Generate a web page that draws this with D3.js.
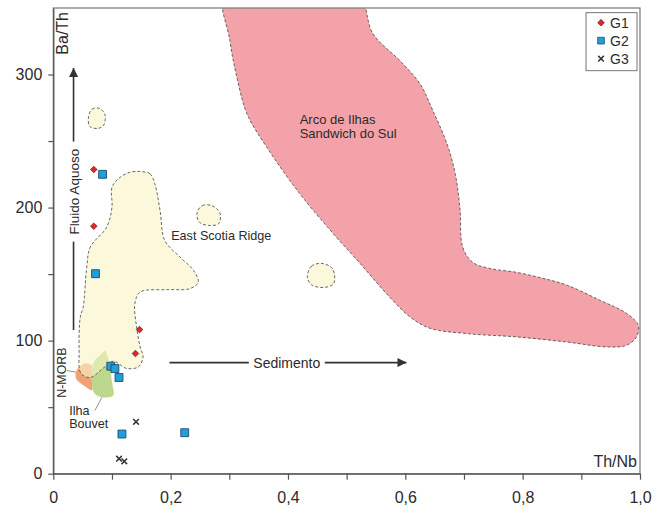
<!DOCTYPE html>
<html>
<head>
<meta charset="utf-8">
<script src="https://cdn.jsdelivr.net/npm/d3@7"></script>
<style>
  body { margin: 0; background: #fff; }
  svg text { font-family: "Liberation Sans", Arial, sans-serif; fill: #2b2b2b; }
</style>
</head>
<body>
<div id="chart"></div>
<script>
// Sizes
const width = 665;
const height = 509;
const margin = { top: 8, right: 25, bottom: 35.3, left: 53.3 };

// Sample points, [Th/Nb, Ba/Th]
const g1 = [[0.069, 228.6], [0.069, 186], [0.147, 108.3], [0.140, 90.3]];
const g2 = [[0.084, 225], [0.072, 150.3], [0.098, 80.8], [0.105, 79], [0.112, 72.3], [0.117, 29.8], [0.224, 30.8]];
const g3 = [[0.141, 39], [0.112, 11.3], [0.121, 9.3]];

// Field outlines, [Th/Nb, Ba/Th]
const arcField = [
  [0.293, 365], [0.514, 365], [0.545, 330.6], [0.591, 310.3], [0.625, 293], [0.647, 272.8],
  [0.671, 248], [0.685, 225.5], [0.693, 200], [0.698, 170], [0.715, 158.8], [0.744, 154.3],
  [0.790, 151.3], [0.835, 146.8], [0.876, 141.6], [0.932, 130.3], [0.977, 120.5], [0.997, 111.6],
  [0.994, 102.8], [0.977, 96.5], [0.943, 95.3], [0.875, 99], [0.790, 102.8], [0.705, 105.3],
  [0.642, 109.3], [0.608, 117.8], [0.568, 135.3], [0.523, 158], [0.477, 180.5], [0.420, 210.5],
  [0.364, 245.3], [0.330, 270.6], [0.313, 297.8], [0.301, 325.4]
];
const scotiaField = [
  [0.148, 227.1], [0.165, 225.4], [0.173, 217.9], [0.182, 197.8], [0.190, 175.3], [0.216, 162.8],
  [0.239, 152.8], [0.247, 144], [0.233, 139.1], [0.193, 138.3], [0.148, 136.5], [0.139, 127.8],
  [0.142, 110.3], [0.148, 95.3], [0.153, 87.8], [0.145, 80.3], [0.125, 79.1], [0.102, 84.5],
  [0.085, 79.3], [0.063, 72.3], [0.047, 75.5], [0.044, 92.8], [0.046, 117.8], [0.051, 125.3],
  [0.057, 155.3], [0.063, 170.3], [0.091, 185.3], [0.100, 200.3], [0.100, 215.3], [0.114, 222.8],
  [0.131, 226.6]
];
const scotiaBlobs = [
  [[0.060, 268], [0.066, 274], [0.079, 274.5], [0.088, 270], [0.086, 262], [0.076, 259.5], [0.062, 261]],
  [[0.245, 196], [0.254, 201.5], [0.270, 201.5], [0.284, 196], [0.282, 188], [0.268, 186.5], [0.249, 189]],
  [[0.433, 148], [0.440, 156], [0.458, 158], [0.476, 154], [0.478, 143], [0.462, 140], [0.440, 142]]
];
const morbField = [
  [0.0387, 76.5], [0.0455, 80.8], [0.054, 82.8], [0.0626, 82.3], [0.0672, 80.3], [0.0655, 72.8],
  [0.0655, 62.8], [0.0569, 64.8], [0.0455, 68.3], [0.0387, 71.6]
];
const bouvetField = [
  [0.0881, 92.3], [0.092, 89], [0.0966, 82.8], [0.0995, 70.3], [0.1023, 59], [0.091, 57.3],
  [0.0767, 58.3], [0.0682, 61.5], [0.0655, 70.3], [0.0655, 79.1], [0.0711, 85.3], [0.0796, 89]
];

// Ticks
const xTicks = [0, 0.1, 0.2, 0.3, 0.4, 0.5, 0.6, 0.7, 0.8, 0.9, 1.0];
const yTicks = [0, 50, 100, 150, 200, 250, 300];

// Legend entries
const legendItems = ["G1", "G2", "G3"];

const svg = d3.select("#chart")
  .append("svg")
  .attr("width", width)
  .attr("height", height);

const x = d3.scaleLinear().domain([0, 1]).range([margin.left, width - margin.right]);
const y = d3.scaleLinear().domain([0, 350]).range([height - margin.bottom, margin.top]);

const defs = svg.append("defs");
defs.append("clipPath").attr("id", "plot-clip")
  .append("rect")
  .attr("x", x(0)).attr("y", y(350))
  .attr("width", x(1) - x(0)).attr("height", y(0) - y(350));

defs.append("marker")
  .attr("id", "arrow")
  .attr("viewBox", "0 0 10 10")
  .attr("refX", 10).attr("refY", 5)
  .attr("markerWidth", 9).attr("markerHeight", 9)
  .attr("markerUnits", "userSpaceOnUse")
  .attr("orient", "auto")
  .append("path")
  .attr("d", "M0,0L10,5L0,10Z")
  .attr("fill", "#333");

const line = d3.line()
  .x(d => x(d[0]))
  .y(d => y(d[1]))
  .curve(d3.curveCatmullRomClosed.alpha(0.5));

const plot = svg.append("g").attr("clip-path", "url(#plot-clip)");

// N-MORB and Ilha Bouvet (underneath the cream field)
plot.append("path").attr("d", line(morbField)).attr("fill", "#f0a274");
plot.append("path").attr("d", line(bouvetField)).attr("fill", "#bcd88e");

// East Scotia Ridge field
const dashed = sel => sel
  .attr("stroke", "#444")
  .attr("stroke-width", 0.8)
  .attr("stroke-dasharray", "3,2");

plot.append("path").attr("d", line(scotiaField))
  .attr("fill", "rgb(250,244,196)").attr("fill-opacity", 0.6)
  .call(dashed);

scotiaBlobs.forEach(b => {
  plot.append("path").attr("d", line(b))
    .attr("fill", "rgb(250,244,196)").attr("fill-opacity", 0.6)
    .call(dashed);
});

// South Sandwich arc field
plot.append("path").attr("d", line(arcField))
  .attr("fill", "#f3a2a9")
  .call(dashed);

// Frame
svg.append("rect")
  .attr("x", x(0)).attr("y", y(350))
  .attr("width", x(1) - x(0)).attr("height", y(0) - y(350))
  .attr("fill", "none")
  .attr("stroke", "#777")
  .attr("stroke-width", 1.2);

// Axes
const fmtX = d => d === 0 ? "0" : d3.format(".1f")(d).replace(".", ",");
const xAxis = svg.append("g")
  .attr("transform", `translate(0,${y(0)})`)
  .call(d3.axisBottom(x).tickValues(xTicks).tickSize(6).tickSizeOuter(0)
    .tickFormat(d => Math.round(d * 10) % 2 === 0 ? fmtX(d) : ""));
xAxis.selectAll("text").attr("dy", "1.3em").style("font-size", "16px");

const yAxis = svg.append("g")
  .attr("transform", `translate(${x(0)},0)`)
  .call(d3.axisLeft(y).tickValues(yTicks).tickSize(5).tickSizeOuter(0)
    .tickFormat(d => d % 100 === 0 ? d : ""));
yAxis.selectAll("text").attr("x", -11).style("font-size", "16px");

[xAxis, yAxis].forEach(a => {
  a.select(".domain").attr("stroke", "#555").attr("stroke-width", 1.3);
  a.selectAll(".tick line").attr("stroke", "#555").attr("stroke-width", 1.2);
  a.selectAll("text").attr("fill", "#222").style("font-family", "'Liberation Sans', Arial, sans-serif");
});

// Axis titles
svg.append("text")
  .attr("transform", `translate(${x(0) + 15},${y(350) + 4}) rotate(-90)`)
  .attr("text-anchor", "end")
  .style("font-size", "16px")
  .text("Ba/Th");

svg.append("text")
  .attr("x", x(1) - 3)
  .attr("y", y(0) - 7)
  .attr("text-anchor", "end")
  .style("font-size", "16px")
  .text("Th/Nb");

// Fluido Aquoso arrow
const fluidX = 0.0345;
svg.append("line")
  .attr("x1", x(fluidX)).attr("y1", y(108))
  .attr("x2", x(fluidX)).attr("y2", y(305))
  .attr("stroke", "#333").attr("stroke-width", 1.6)
  .attr("marker-end", "url(#arrow)");
svg.append("rect")
  .attr("x", x(fluidX) - 8).attr("y", y(212) - 50)
  .attr("width", 16).attr("height", 100)
  .attr("fill", "#fff");
svg.append("text")
  .attr("transform", `translate(${x(fluidX) + 5},${y(212)}) rotate(-90)`)
  .attr("text-anchor", "middle")
  .style("font-size", "13.5px")
  .text("Fluido Aquoso");

// Sedimento arrow
const sedY = 83.5;
svg.append("line")
  .attr("x1", x(0.198)).attr("y1", y(sedY))
  .attr("x2", x(0.602)).attr("y2", y(sedY))
  .attr("stroke", "#333").attr("stroke-width", 1.6)
  .attr("marker-end", "url(#arrow)");
svg.append("rect")
  .attr("x", x(0.398) - 38).attr("y", y(sedY) - 8)
  .attr("width", 76).attr("height", 16)
  .attr("fill", "#fff");
svg.append("text")
  .attr("x", x(0.398)).attr("y", y(sedY) + 5)
  .attr("text-anchor", "middle")
  .style("font-size", "14px")
  .text("Sedimento");

// Field labels
const arcLabel = svg.append("text").style("font-size", "13px");
arcLabel.append("tspan").attr("x", x(0.42)).attr("y", y(263)).text("Arco de Ilhas");
arcLabel.append("tspan").attr("x", x(0.42)).attr("y", y(252)).text("Sandwich do Sul");

svg.append("text")
  .attr("x", x(0.201)).attr("y", y(175.5))
  .style("font-size", "12.6px")
  .text("East Scotia Ridge");

svg.append("text")
  .attr("transform", `translate(${x(0.0) + 13},${y(76)}) rotate(-90)`)
  .attr("text-anchor", "middle")
  .style("font-size", "12.4px")
  .text("N-MORB");

svg.append("text")
  .attr("x", x(0.027)).attr("y", y(44))
  .style("font-size", "12.6px")
  .text("Ilha");
svg.append("text")
  .attr("x", x(0.027)).attr("y", y(34))
  .style("font-size", "12.6px")
  .text("Bouvet");

// Leader lines
svg.append("line")
  .attr("x1", x(0.023)).attr("y1", y(77.5))
  .attr("x2", x(0.039)).attr("y2", y(76.3))
  .attr("stroke", "#777").attr("stroke-width", 0.8);
svg.append("line")
  .attr("x1", x(0.071)).attr("y1", y(47.5))
  .attr("x2", x(0.083)).attr("y2", y(57.5))
  .attr("stroke", "#777").attr("stroke-width", 0.8);

// Markers
const diamond = d3.symbol().type(d3.symbolSquare).size(22);
const square = d3.symbol().type(d3.symbolSquare).size(62);
const crossPath = "M-2.8,-2.8L2.8,2.8M-2.8,2.8L2.8,-2.8";

function drawG1(sel) {
  sel.append("path").attr("d", diamond()).attr("transform", "rotate(45)")
    .attr("fill", "#e0282c").attr("stroke", "#5a1010").attr("stroke-width", 0.6);
}
function drawG2(sel) {
  sel.append("path").attr("d", square())
    .attr("fill", "#1fa0da").attr("stroke", "#1f4a66").attr("stroke-width", 0.9);
}
function drawG3(sel) {
  sel.append("path").attr("d", crossPath)
    .attr("fill", "none").attr("stroke", "#333").attr("stroke-width", 1.5);
}

svg.append("g").selectAll("g").data(g2).join("g")
  .attr("transform", d => `translate(${x(d[0])},${y(d[1])})`).call(drawG2);
svg.append("g").selectAll("g").data(g1).join("g")
  .attr("transform", d => `translate(${x(d[0])},${y(d[1])})`).call(drawG1);
svg.append("g").selectAll("g").data(g3).join("g")
  .attr("transform", d => `translate(${x(d[0])},${y(d[1])})`).call(drawG3);

// Legend
const legend = svg.append("g").attr("transform", `translate(${x(0.908)},${y(346.5)})`);
legend.append("rect")
  .attr("width", 51).attr("height", 58)
  .attr("fill", "#fff").attr("stroke", "#777").attr("stroke-width", 1);
const drawers = [drawG1, drawG2, drawG3];
legendItems.forEach((name, i) => {
  const row = legend.append("g").attr("transform", `translate(15,${10 + i * 18})`);
  row.append("g").attr("transform", i === 1 ? "scale(0.85)" : null).call(drawers[i]);
  row.append("text").attr("x", 9).attr("y", 5).style("font-size", "14px").text(name);
});
</script>
</body>
</html>
